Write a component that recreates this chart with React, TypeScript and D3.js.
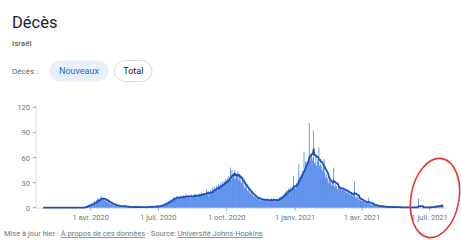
import * as d3 from 'd3';

// Israël, nouveaux décès par jour (JHU), 22 janv. 2020 -> 19 juil. 2021
const jan2020 = [0, 0, 0, 0, 0, 0, 0, 0, 0, 0];
const feb2020 = [0, 0, 0, 0, 0, 0, 0, 0, 0, 0, 0, 0, 0, 0, 0, 0, 0, 0, 0, 0, 0, 0, 0, 0, 0, 0, 0, 0, 0];
const mar2020 = [0, 0, 0, 0, 0, 0, 0, 0, 0, 0, 0, 0, 0, 0, 0, 0, 0, 0, 0, 1, 0, 0, 0, 1, 1, 2, 2, 3, 3, 4, 2];
const apr2020 = [4, 5, 4, 6, 5, 8, 7, 5, 9, 10, 12, 8, 10, 11, 14, 9, 12, 10, 11, 8, 9, 7, 10, 6, 7, 5, 6, 4, 5, 6];
const may2020 = [3, 2, 4, 3, 2, 2, 3, 1, 3, 2, 2, 1, 2, 3, 1, 2, 1, 2, 1, 0, 1, 2, 0, 1, 1, 0, 1, 2, 0, 1, 1];
const jun2020 = [0, 1, 0, 1, 0, 1, 2, 0, 1, 0, 1, 0, 1, 0, 1, 1, 0, 2, 1, 0, 1, 2, 1, 2, 1, 0, 2, 1, 3, 2];
const jul2020 = [1, 2, 2, 3, 2, 4, 3, 4, 5, 4, 6, 5, 7, 6, 8, 7, 9, 10, 8, 11, 12, 10, 13, 11, 12, 14, 10, 13, 12, 11, 14];
const aug2020 = [12, 14, 11, 15, 13, 12, 16, 13, 14, 12, 15, 13, 11, 16, 14, 12, 15, 13, 17, 14, 12, 16, 15, 13, 17, 14, 16, 18, 15, 17, 16];
const sep2020 = [16, 18, 15, 22, 17, 20, 13, 18, 21, 17, 19, 24, 20, 25, 19, 23, 26, 20, 25, 28, 22, 27, 30, 24, 29, 32, 26, 31, 34, 28];
const oct2020 = [33, 36, 31, 38, 34, 48, 33, 45, 36, 42, 35, 45, 34, 40, 37, 43, 33, 40, 31, 37, 29, 34, 26, 31, 24, 28, 22, 25, 20, 22, 18];
const nov2020 = [20, 17, 18, 15, 16, 13, 14, 12, 13, 11, 12, 10, 11, 9, 12, 8, 10, 9, 11, 8, 9, 10, 8, 11, 9, 7, 10, 8, 9, 11];
const dec2020 = [10, 8, 11, 9, 7, 10, 8, 9, 11, 10, 12, 13, 11, 14, 13, 16, 15, 17, 19, 18, 21, 20, 23, 19, 22, 24, 21, 25, 23, 38, 24];
const jan2021 = [25, 22, 30, 27, 33, 52, 36, 34, 40, 38, 44, 43, 67, 45, 55, 50, 56, 52, 58, 101, 56, 60, 64, 56, 60, 92, 54, 52, 62, 50, 56];
const feb2021 = [58, 72, 50, 52, 46, 50, 44, 48, 58, 42, 36, 40, 33, 36, 30, 34, 29, 32, 27, 30, 26, 48, 25, 28, 23, 26, 22, 25];
const mar2021 = [22, 25, 24, 20, 23, 21, 24, 19, 22, 20, 18, 21, 17, 19, 16, 18, 15, 17, 14, 16, 13, 31, 12, 14, 11, 13, 10, 12, 9, 11, 8];
const apr2021 = [9, 7, 8, 6, 7, 5, 7, 6, 4, 12, 5, 4, 5, 3, 4, 3, 4, 2, 3, 2, 3, 2, 1, 3, 2, 1, 2, 1, 2, 1];
const may2021 = [1, 0, 2, 1, 0, 1, 1, 0, 2, 1, 0, 1, 0, 1, 1, 0, 2, 0, 1, 0, 1, 0, 0, 1, 0, 1, 0, 0, 1, 0, 0];
const jun2021 = [0, 1, 0, 0, 1, 0, 0, 1, 0, 0, 1, 0, 0, 0, 1, 11, 0, 0, 1, 0, 0, 1, 0, 0, 1, 0, 0, 1, 0, 0];
const jul2021 = [1, 0, 1, 2, 0, 1, 1, 2, 1, 2, 3, 1, 2, 3, 2, 3, 4, 2, 3];

const startDate = new Date(2020, 0, 22);
const yTicks = [0, 30, 60, 90, 120];
const xTickDates = [
  new Date(2020, 3, 1),
  new Date(2020, 6, 1),
  new Date(2020, 9, 1),
  new Date(2021, 0, 1),
  new Date(2021, 3, 1),
  new Date(2021, 6, 1),
];
const xTickLabels = ['1 avr. 2020', '1 juil. 2020', '1 oct. 2020', '1 janv. 2021', '1 avr. 2021', '1 juil. 2021'];

const daily = [
  ...jan2020, ...feb2020, ...mar2020, ...apr2020, ...may2020, ...jun2020,
  ...jul2020, ...aug2020, ...sep2020, ...oct2020, ...nov2020, ...dec2020,
  ...jan2021, ...feb2021, ...mar2021, ...apr2021, ...may2021, ...jun2021, ...jul2021,
];

const data = daily.map((v, i) => ({ date: d3.timeDay.offset(startDate, i), value: v }));
// moyenne mobile sur 7 jours
const avg = data
  .map((d, i) => (i < 6 ? null : { date: d.date, value: d3.mean(daily.slice(i - 6, i + 1)) as number }))
  .filter((d) => d !== null) as { date: Date; value: number }[];

const font = 'Roboto, "Noto Sans", sans-serif';

export default function App() {
  const width = 461,
    height = 240;

  const x = d3
    .scaleTime()
    .domain([startDate, data[data.length - 1].date])
    .range([38.7, 443]);
  const y = d3.scaleLinear().domain([0, 120]).range([207.7, 107.3]);
  const step = x(d3.timeDay.offset(startDate, 1)) - x(startDate);

  const line = d3
    .line<{ date: Date; value: number }>()
    .x((d) => x(d.date))
    .y((d) => y(d.value));

  return (
    <div style={{ position: 'absolute', left: 0, top: 0 }}>
      <svg width={width} height={height} style={{ display: 'block', background: '#fff' }} fontFamily={font}>
        {/* en-tête */}
        <text x={12} y={28} fontSize={16.5} fill="#202124">Décès</text>
        <text x={12} y={46} fontSize={8} fill="#3c4043">Israël</text>
        <text x={12} y={74} fontSize={8} fill="#5f6368">Décès :</text>
        <rect x={49.5} y={60.5} width={59} height={21} rx={10.5} fill="#e8f0fe" />
        <text x={79} y={74} fontSize={9} fill="#1967d2" textAnchor="middle">Nouveaux</text>
        <rect x={114.5} y={60.5} width={37.5} height={21} rx={10.5} fill="#fff" stroke="#dadce0" />
        <text x={133.3} y={74} fontSize={9} fill="#202124" textAnchor="middle">Total</text>

        {/* axe Y */}
        <line x1={36} x2={36} y1={y(120) - 2} y2={y(0)} stroke="#dadce0" />
        {yTicks.map((t) => (
          <g key={t}>
            <line x1={33} x2={36} y1={y(t)} y2={y(t)} stroke="#9aa0a6" />
            <text x={30} y={y(t) + 3} fontSize={7.5} fill="#70757a" textAnchor="end">{t}</text>
          </g>
        ))}

        {/* ligne de base */}
        <line x1={36} x2={446} y1={y(0) + 0.5} y2={y(0) + 0.5} stroke="#dadce0" />
        {xTickDates.map((t, i) => (
          <g key={i}>
            <line x1={x(t)} x2={x(t)} y1={y(0)} y2={y(0) + 3} stroke="#9aa0a6" />
            <text x={x(t)} y={220} fontSize={7.5} fill="#70757a" textAnchor="middle">{xTickLabels[i]}</text>
          </g>
        ))}

        {/* barres */}
        <g fill="#3373e6">
          {data.map((d, i) =>
            d.value > 0 ? (
              <rect key={i} x={x(d.date) - step * 0.48} y={y(d.value)} width={step * 0.96} height={y(0) - y(d.value)} />
            ) : null
          )}
        </g>

        {/* moyenne mobile */}
        <path d={line(avg) as string} fill="none" stroke="#1a50b8" strokeWidth={1.8} strokeLinejoin="round" />

        {/* pied de page */}
        <text x={4} y={236} fontSize={7.5} fill="#70757a">
          Mise à jour hier · <tspan textDecoration="underline">À propos de ces données</tspan> · Source:{' '}
          <tspan textDecoration="underline">Université Johns-Hopkins</tspan>
        </text>

        {/* annotation */}
        <ellipse cx={435} cy={198} rx={24} ry={40} fill="none" stroke="#e53935" strokeWidth={1.6} transform="rotate(10 435 198)" />
      </svg>
    </div>
  );
}
